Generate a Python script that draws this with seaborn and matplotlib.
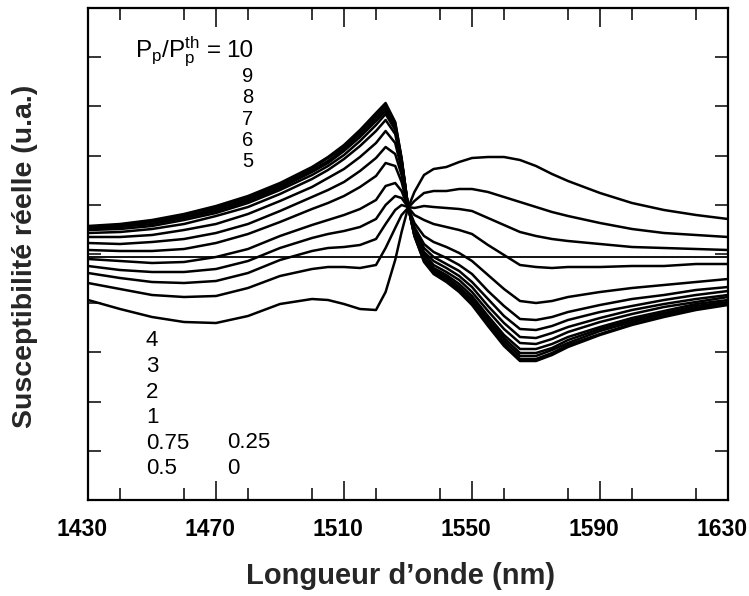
import numpy as np
import pandas as pd
import matplotlib
matplotlib.use("Agg")
import matplotlib.pyplot as plt
import matplotlib.transforms as mtransforms
import seaborn as sns
from matplotlib.ticker import MultipleLocator

# ---- data (arbitrary units) ----
wavelength = [1430, 1440, 1450, 1460, 1470, 1480, 1490, 1500, 1505, 1510, 1515,
              1520, 1523, 1526, 1528, 1530, 1532, 1535, 1538, 1542, 1546, 1550,
              1555, 1560, 1565, 1570, 1575, 1580, 1590, 1600, 1610, 1620, 1630]

chi_p0 = [-43, -52, -60, -65, -66, -59, -47, -42, -43, -47, -52, -53, -35, -3, 25, 49, 65, 82, 88, 90, 95, 99, 100, 100, 97, 91, 83, 76, 64, 54, 47, 42, 38]
chi_p025 = [-26, -32, -38, -40, -39, -31, -19, -12, -10, -10, -11, -8, 9, 29, 42, 49, 56, 64, 66, 66, 68, 68, 65, 60, 55, 50, 45, 41, 34, 28, 24, 22, 20]
chi_p05 = [-16, -21, -25, -26, -24, -16, -3, 6, 9, 10, 12, 18, 33, 47, 52, 50, 49, 51, 50, 49, 48, 46, 39, 32, 25, 21, 18, 16, 13, 10, 9, 8, 7]
chi_p075 = [-9, -13, -15, -15, -12, -4, 9, 19, 23, 26, 30, 38, 52, 61, 59, 50, 42, 37, 33, 30, 27, 23, 12, 2, -8, -10, -11, -10, -10, -9, -9, -7, -7]
chi_p1 = [-2, -4, -6, -5, 0, 8, 21, 32, 37, 42, 48, 57, 71, 74, 66, 50, 34, 21, 15, 10, 4, -4, -18, -32, -44, -46, -44, -40, -35, -31, -28, -25, -22]
chi_p2 = [7, 6, 6, 8, 14, 23, 35, 48, 54, 61, 70, 81, 94, 91, 75, 50, 30, 13, 5, -1, -8, -17, -34, -49, -62, -63, -60, -55, -48, -42, -38, -33, -30]
chi_p3 = [14, 13, 15, 18, 24, 33, 46, 60, 67, 75, 86, 99, 110, 103, 82, 51, 28, 9, 0, -7, -14, -25, -42, -59, -72, -73, -69, -63, -55, -49, -43, -38, -34]
chi_p4 = [20, 20, 22, 27, 33, 43, 56, 70, 79, 88, 100, 114, 126, 114, 88, 51, 26, 5, -4, -11, -19, -30, -49, -66, -80, -81, -76, -70, -61, -53, -47, -42, -38]
chi_p5 = [24, 25, 28, 33, 41, 50, 63, 78, 87, 98, 111, 126, 137, 123, 92, 51, 25, 3, -8, -15, -23, -35, -54, -72, -86, -87, -82, -75, -65, -57, -50, -45, -40]
chi_p6 = [27, 28, 31, 37, 44, 54, 67, 82, 91, 102, 116, 132, 143, 127, 95, 51, 24, 0, -11, -18, -27, -39, -59, -78, -92, -92, -87, -80, -70, -61, -54, -47, -43]
chi_p7 = [28, 30, 33, 39, 46, 56, 69, 85, 94, 106, 120, 136, 146, 130, 96, 51, 23, -2, -13, -20, -30, -42, -62, -81, -96, -96, -91, -83, -72, -63, -56, -49, -45]
chi_p8 = [29, 31, 35, 40, 48, 58, 71, 87, 96, 108, 123, 139, 149, 132, 97, 51, 22, -3, -14, -22, -32, -44, -65, -84, -99, -99, -93, -86, -74, -65, -57, -51, -46]
chi_p9 = [30, 32, 36, 42, 50, 60, 73, 89, 99, 110, 125, 142, 152, 134, 98, 51, 21, -4, -16, -24, -34, -47, -67, -87, -102, -102, -96, -88, -77, -67, -59, -52, -47]
chi_p10 = [31, 33, 37, 43, 51, 61, 74, 90, 100, 112, 127, 144, 154, 135, 99, 51, 21, -5, -17, -25, -35, -48, -69, -89, -104, -104, -98, -90, -78, -68, -60, -53, -48]

pump_ratios = ["0", "0.25", "0.5", "0.75", "1", "2", "3", "4", "5", "6", "7", "8", "9", "10"]
series = [chi_p0, chi_p025, chi_p05, chi_p075, chi_p1, chi_p2, chi_p3, chi_p4,
          chi_p5, chi_p6, chi_p7, chi_p8, chi_p9, chi_p10]

xticks_major = [1430, 1470, 1510, 1550, 1590, 1630]
xtick_labels = ["1430", "1470", "1510", "1550", "1590", "1630"]
xlabel = "Longueur d\u2019onde (nm)"
ylabel = "Susceptibilit\u00e9 r\u00e9elle (u.a.)"
ratio_label = r"$\mathregular{P_p/P_p^{th}}$ ="
top_value = "10"
top_labels = ["9", "8", "7", "6", "5"]
bottom_left_labels = ["4", "3", "2", "1", "0.75", "0.5"]
bottom_right_labels = ["0.25", "0"]

# ---- long-form table ----
rows = []
for p, ys in zip(pump_ratios, series):
    for x, y in zip(wavelength, ys):
        rows.append((p, x, y))
df = pd.DataFrame(rows, columns=["P", "wavelength", "chi"])

# ---- style ----
sns.set_theme(style="ticks")
plt.rcParams["font.family"] = ["Liberation Sans", "DejaVu Sans"]
plt.rcParams["mathtext.fontset"] = "custom"
plt.rcParams["mathtext.rm"] = "Liberation Sans"
plt.rcParams["mathtext.it"] = "Liberation Sans:italic"
plt.rcParams["mathtext.default"] = "regular"

W, H = 749, 596
fig = plt.figure(figsize=(W / 100, H / 100), dpi=100)
ax = fig.add_axes([88 / W, 1 - 500 / H, 640 / W, 492 / H])

sns.lineplot(data=df, x="wavelength", y="chi", hue="P",
             palette={p: "black" for p in pump_ratios}, legend=False,
             sort=False, estimator=None, linewidth=1.8, ax=ax)
ax.axhline(0, color="black", lw=1.3, zorder=1)

ax.set_xlim(1430, 1630)
ax.set_ylim(-243, 249)

ax.xaxis.set_major_locator(MultipleLocator(40))
ax.xaxis.set_minor_locator(MultipleLocator(20))
ax.set_xticks(xticks_major)
ax.set_xticklabels([])
ax.set_yticks(np.linspace(-243, 249, 11))
ax.set_yticklabels([])

# tick labels: in the reference they sit slightly left of their ticks
base = mtransforms.blended_transform_factory(ax.transData, ax.transAxes)
shift = mtransforms.ScaledTranslation(-6 / 100, -29 / 100, fig.dpi_scale_trans)
for v, s in zip(xticks_major, xtick_labels):
    ax.text(v, 0, s, transform=base + shift, ha="center", va="center",
            fontsize=16.5, fontweight="bold", color="black", clip_on=False)

ax.tick_params(axis="x", which="major", direction="in", length=13.5, width=1.3,
               top=True, bottom=True)
ax.tick_params(axis="x", which="minor", direction="in", length=8.5, width=1.3,
               top=True, bottom=True)
ax.tick_params(axis="y", which="major", direction="in", length=9.5, width=1.3,
               left=True, right=True, labelleft=False)
for s in ax.spines.values():
    s.set_linewidth(1.6)
    s.set_color("black")

ax.set_xlabel(xlabel, fontsize=21, fontweight="bold", va="center")
ax.xaxis.set_label_coords((401 - 88) / 640, (500 - 576) / 492)
ax.set_ylabel(ylabel, fontsize=20.5, fontweight="bold", va="center")
ax.yaxis.set_label_coords((25 - 88) / 640, (500 - 256) / 492)


def ftext(px, py, s, size, **kw):
    fig.text(px / W, 1 - py / H, s, fontsize=size, color="black", **kw)


ftext(221, 57, ratio_label, 17.5, ha="right", va="baseline")
ftext(253, 57, top_value, 17.5, ha="right", va="baseline")
for i, t in enumerate(top_labels):
    ftext(253, 76.5 + 21.3 * i, t, 14.5, ha="right", va="center")
for i, t in enumerate(bottom_left_labels):
    ftext(146, 341 + 25.6 * i, t, 16, ha="left", va="center")
for i, t in enumerate(bottom_right_labels):
    ftext(227, 443 + 26 * i, t, 16, ha="left", va="center")

fig.savefig("out.png", dpi=100)
